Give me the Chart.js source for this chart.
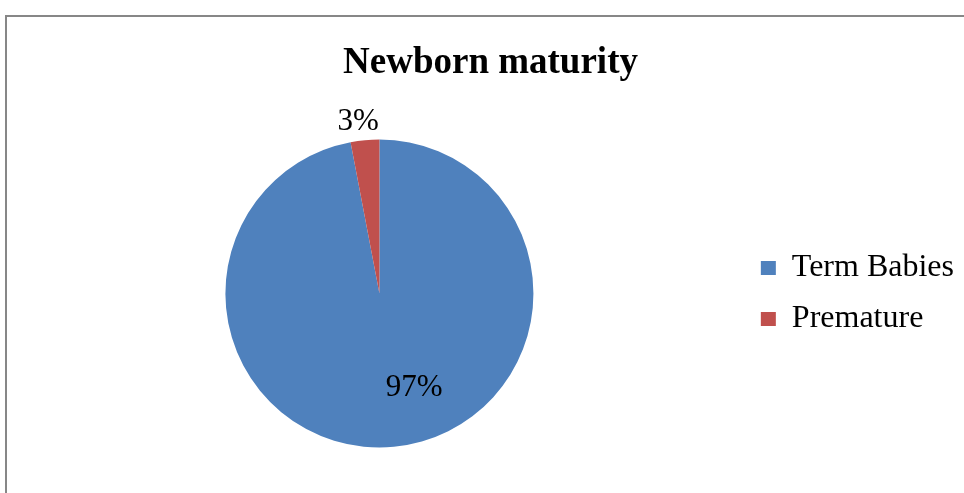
<!DOCTYPE html>
<html>
<head>
<meta charset="utf-8">
<script src="https://cdn.jsdelivr.net/npm/chart.js@4"></script>
<style>
  html, body { margin: 0; background: #fff; }
  #wrap { position: relative; width: 964px; height: 493px; }
</style>
</head>
<body>
<div id="wrap"><canvas id="myChart" width="964" height="493"></canvas></div>
<script>
const labels = ["Term Babies", "Premature"];
const values = [97, 3];
const colors = ["#4F81BD", "#C0504D"];

const serif = "'Liberation Serif', 'Times New Roman', serif";

// grey frame along the left and top edges
const frame = {
  id: "frame",
  beforeDraw(chart) {
    const { ctx } = chart;
    ctx.save();
    ctx.strokeStyle = "#878787";
    ctx.lineWidth = 2;
    ctx.beginPath();
    ctx.moveTo(6, chart.height);
    ctx.lineTo(6, 16);
    ctx.lineTo(chart.width, 16);
    ctx.stroke();
    ctx.restore();
  },
};

// percentage labels, placed along each slice's mid angle
const sliceLabels = {
  id: "sliceLabels",
  afterDatasetsDraw(chart, args, opts) {
    const { ctx } = chart;
    const meta = chart.getDatasetMeta(0);
    const total = values.reduce((a, b) => a + b, 0);
    ctx.save();
    ctx.font = "31px " + serif;
    ctx.fillStyle = "#000";
    ctx.textAlign = "center";
    ctx.textBaseline = "middle";
    meta.data.forEach((arc, i) => {
      const { x, y, startAngle, endAngle, outerRadius } = arc.getProps(
        ["x", "y", "startAngle", "endAngle", "outerRadius"],
        true
      );
      const a = (startAngle + endAngle) / 2 + opts.shift[i];
      const r = outerRadius * opts.radius[i];
      const pct = Math.round((values[i] / total) * 100) + "%";
      ctx.fillText(pct, x + Math.cos(a) * r, y + Math.sin(a) * r);
    });
    ctx.restore();
  },
};

new Chart(document.getElementById("myChart"), {
  type: "pie",
  data: {
    labels: labels,
    datasets: [
      {
        data: values,
        backgroundColor: colors,
        borderWidth: 0,
      },
    ],
  },
  options: {
    responsive: false,
    animation: false,
    layout: {
      padding: { left: 17, right: 0, top: 0, bottom: 45.5 },
    },
    plugins: {
      title: {
        display: true,
        text: "Newborn maturity",
        color: "#000",
        font: { family: serif, size: 37, weight: "bold" },
        padding: { top: 41.3, bottom: 53.8 },
      },
      legend: {
        position: "right",
        fullSize: false,
        labels: {
          color: "#000",
          font: { family: serif, size: 32 },
          boxWidth: 15,
          boxHeight: 14,
          padding: 19,
        },
      },
      tooltip: { enabled: false },
      sliceLabels: {
        radius: [0.65, 1.12],
        shift: [-0.26, -0.03],
      },
    },
  },
  plugins: [frame, sliceLabels],
});
</script>
</body>
</html>
